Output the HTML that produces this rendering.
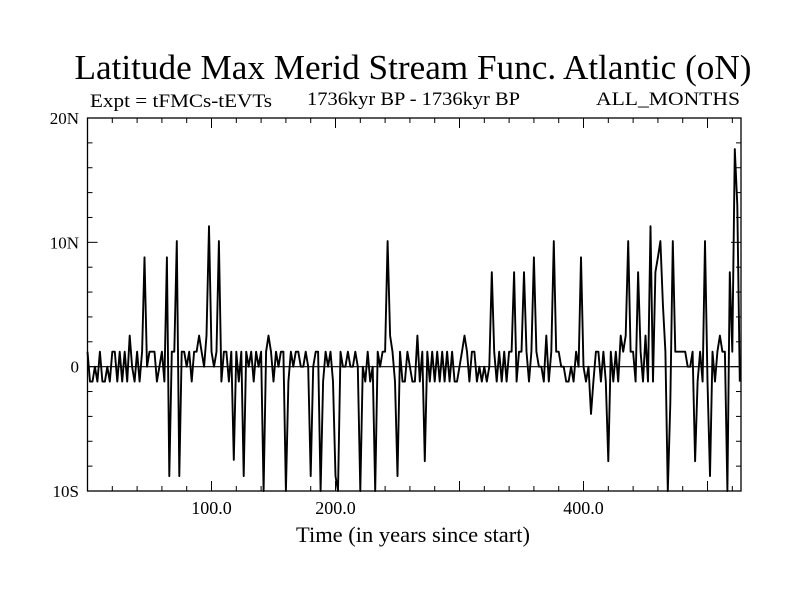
<!DOCTYPE html>
<html><head><meta charset="utf-8"><style>
body{margin:0;background:#fff}
svg text{font-family:"Liberation Serif",serif;fill:#000}
</style></head><body>
<svg id="c" width="800" height="600" viewBox="0 0 800 600">
<text x="413" y="79" font-size="35" text-anchor="middle" textLength="677" lengthAdjust="spacingAndGlyphs">Latitude Max Merid Stream Func. Atlantic (oN)</text>
<text x="90" y="107" font-size="19" textLength="182" lengthAdjust="spacingAndGlyphs">Expt = tFMCs-tEVTs</text>
<text x="307" y="105" font-size="19" textLength="213" lengthAdjust="spacingAndGlyphs">1736kyr BP - 1736kyr BP</text>
<text x="596" y="105" font-size="19" textLength="144" lengthAdjust="spacingAndGlyphs">ALL_MONTHS</text>
<text x="296" y="542" font-size="22" textLength="234" lengthAdjust="spacingAndGlyphs">Time (in years since start)</text>
<g id="ax"></g>
<path id="ln" fill="none" stroke="#000" stroke-width="1.9" stroke-linejoin="round"/>
</svg>
<script>
const startYear = 0;
const stepYears = 2;
const values = [
1.2,-1.2,-1.2,0,-1.2,1.2,-1.2,-1.2,0,-1.2,
1.2,1.2,-1.2,1.2,-1.2,1.2,-1.2,2.5,0,-1.2,
1.2,-1.2,1.2,8.8,0,1.2,1.2,1.2,-1.2,0,
1.2,-1.2,8.8,-8.8,1.2,1.2,10.1,-8.8,1.2,1.2,
0,1.2,-1.2,1.2,1.2,2.5,1.2,0,2.5,11.3,
1.2,0,1.2,10.1,-1.2,1.2,1.2,-1.2,1.2,-7.5,
1.2,-1.2,1.2,-8.8,1.2,0,1.2,-1.2,1.2,0,
1.2,-10,1.2,2.5,1.2,-1.2,1.2,0,1.2,1.2,
-10,-1.2,1.2,0,1.2,1.2,0,0,1.2,0,
-8.8,0,1.2,1.2,-10,-1.2,1.2,0,1.2,-1.2,
-8.8,-10,1.2,0,0,1.2,0,0,1.2,0,
-10,0,-1.2,1.2,-1.2,0,-10,1.2,0,1.2,
1.2,10.1,2.5,1.2,-1.2,-8.8,1.2,-1.2,-1.2,1.2,
0,-1.2,-1.2,2.5,-1.2,1.2,-7.6,1.2,-1.2,1.2,
-1.2,1.2,-1.2,1.2,-1.2,1.2,-1.2,1.2,-1.2,-1.2,
0,1.2,2.5,1.2,-1.2,1.2,1.2,-1.2,0,-1.2,
0,-1.2,0,7.6,1.2,-1.2,1.2,-1.2,1.2,-1.2,
1.2,1.2,7.6,-1.2,1.2,1.2,7.6,1.2,-1.2,1.2,
8.8,1.2,0,0,-1.2,2.5,-1.2,1.2,10.1,1.2,
1.2,0,0,-1.2,-1.2,0,-1.2,1.2,0,8.8,
0,-1.2,0,-3.8,-1.2,1.2,1.2,-1.2,1.2,-1.2,
-7.6,1.2,-1.2,1.2,-1.2,2.5,1.2,2.5,10.1,1.2,
1.2,-1.2,7.6,1.2,-1.2,2.5,-1.2,11.3,-1.2,7.6,
8.8,10.1,5,1.2,-10,-3,10.1,1.2,1.2,1.2,
1.2,1.2,0,0,1.2,-7.6,-1.2,1.2,-1.2,10.1,
-1.2,-8.8,1.2,-1.2,1.2,2.5,1.2,1.2,-10,7.6,
1.2,17.5,13,-1.2
];
const xTickLabels = ["100.0","200.0","400.0"];
const xTickValues = [100,200,400];
const yTickValues = [-10,0,10,20];
const yTickLabels = ["10S","0","10N","20N"];

const L=87.5,R=741,T=118,B=491,XMIN=0,XMAX=527,YMIN=-10,YMAX=20;
const sx=v=>L+(v-XMIN)/(XMAX-XMIN)*(R-L);
const sy=v=>B-(Math.max(YMIN,Math.min(YMAX,v))-YMIN)/(YMAX-YMIN)*(B-T);
const NS="http://www.w3.org/2000/svg";
const ax=document.getElementById('ax');
function mk(t,a){const e=document.createElementNS(NS,t);for(const k in a)e.setAttribute(k,a[k]);ax.appendChild(e);return e;}
let f=mk('rect',{x:L,y:T,width:R-L,height:B-T,fill:'none',stroke:'#000','stroke-width':1.3});


let z=mk('line',{x1:L,x2:R,y1:sy(0),y2:sy(0),stroke:'#000','stroke-width':1.2});


for(let v=20;v<XMAX;v+=20){const x=sx(v),len=v%100===0?10:5;
 const t1=mk('line',{x1:x,x2:x,y1:B,y2:B-len,stroke:'#000'});
 
 
 const t2=mk('line',{x1:x,x2:x,y1:T,y2:T+len,stroke:'#000'});
 
 }
xTickValues.forEach((v,i)=>{const t=mk('text',{x:sx(v),y:B+23,'font-size':18,'text-anchor':'middle'});t.textContent=xTickLabels[i];
 
 });
for(let v=YMIN+2;v<YMAX;v+=2){const y=sy(v),len=v%10===0?10:5;
 const t1=mk('line',{x1:L,x2:L+len,y1:y,y2:y,stroke:'#000'});
 
 
 const t2=mk('line',{x1:R,x2:R-len,y1:y,y2:y,stroke:'#000'});
 
 }
yTickValues.forEach((v,i)=>{const t=mk('text',{x:79,y:sy(v)+6,'font-size':17,'text-anchor':'end'});t.textContent=yTickLabels[i];
 
 });
document.getElementById('ln').setAttribute('d',values.map((v,i)=>(i?'L':'M')+sx(startYear+i*stepYears).toFixed(1)+','+sy(v).toFixed(1)).join(''));
</script>
</body></html>
